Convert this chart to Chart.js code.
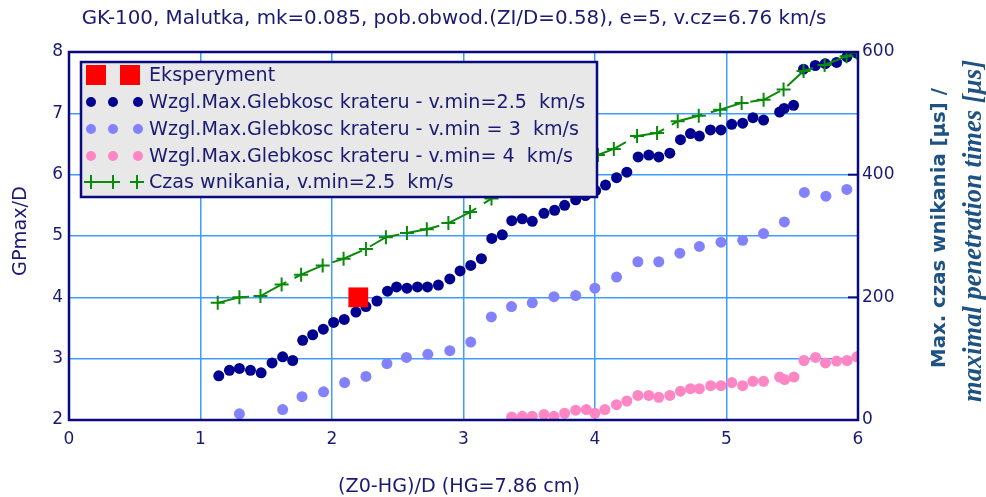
<!DOCTYPE html>
<html lang="pl">
<head>
  <meta charset="UTF-8" />
  <title>GK-100, Malutka</title>
  <script src="https://cdn.jsdelivr.net/npm/chart.js"></script>
  <style>
    html, body { margin: 0; padding: 0; background: #fff; }
    #wrap { width: 986px; height: 497px; }
  </style>
</head>
<body>
  <div id="wrap"><canvas id="chart" width="986" height="497"></canvas></div>

  <script>
    // texts
    const chartTitle = 'GK-100, Malutka, mk=0.085, pob.obwod.(ZI/D=0.58), e=5, v.cz=6.76 km/s';
    const xTitle = '(Z0-HG)/D (HG=7.86 cm)';
    const yTitle = 'GPmax/D';
    const y2Title1 = 'Max. czas wnikania [µs] /';
    const y2Title2 = 'maximal penetration times [µs]';
    const seriesNames = [
      'Eksperyment',
      'Wzgl.Max.Glebkosc krateru - v.min=2.5  km/s',
      'Wzgl.Max.Glebkosc krateru - v.min = 3  km/s',
      'Wzgl.Max.Glebkosc krateru - v.min= 4  km/s',
      'Czas wnikania, v.min=2.5  km/s'
    ];

    // experiment
    const xExp = [2.2];
    const yExp = [4.0];

    // v.min = 2.5 km/s
    const xDark = [1.139,1.220,1.296,1.380,1.461,1.544,1.625,1.701,1.777,1.853,1.934,2.012,2.093,2.182,2.258,2.342,2.422,2.491,2.570,2.650,2.726,2.809,2.896,2.974,3.055,3.136,3.215,3.295,3.367,3.447,3.523,3.612,3.693,3.769,3.853,3.927,4.005,4.080,4.164,4.242,4.328,4.409,4.485,4.569,4.650,4.726,4.794,4.878,4.958,5.040,5.123,5.201,5.282,5.404,5.438,5.510,5.586,5.675,5.751,5.837,5.915,5.991];
    const yDark = [2.72,2.81,2.84,2.81,2.77,2.93,3.03,2.97,3.30,3.39,3.48,3.59,3.64,3.76,3.85,3.94,4.10,4.17,4.15,4.17,4.17,4.20,4.30,4.43,4.52,4.63,4.96,5.02,5.25,5.28,5.24,5.37,5.42,5.50,5.59,5.66,5.74,5.83,5.95,6.04,6.29,6.32,6.29,6.35,6.57,6.67,6.63,6.73,6.73,6.82,6.84,6.93,6.89,7.02,7.08,7.13,7.72,7.78,7.81,7.83,7.92,7.98];

    // v.min = 3 km/s
    const xLight = [1.296,1.625,1.772,1.936,2.096,2.258,2.418,2.566,2.729,2.896,3.055,3.212,3.365,3.523,3.688,3.853,3.999,4.164,4.326,4.485,4.645,4.794,4.958,5.123,5.282,5.440,5.592,5.756,5.915];
    const yLight = [2.10,2.17,2.38,2.46,2.61,2.71,2.92,3.02,3.07,3.13,3.27,3.68,3.85,3.91,4.01,4.03,4.15,4.33,4.58,4.58,4.72,4.83,4.90,4.93,5.04,5.23,5.71,5.65,5.76];

    // v.min = 4 km/s
    const xPink = [3.366,3.447,3.523,3.612,3.688,3.769,3.853,3.934,3.999,4.075,4.163,4.242,4.326,4.409,4.485,4.569,4.650,4.726,4.794,4.880,4.958,5.040,5.123,5.201,5.282,5.404,5.442,5.513,5.589,5.677,5.753,5.837,5.917,5.991];
    const yPink = [2.05,2.06,2.06,2.09,2.06,2.11,2.16,2.17,2.11,2.17,2.25,2.31,2.40,2.40,2.37,2.40,2.47,2.51,2.51,2.56,2.56,2.61,2.56,2.63,2.63,2.70,2.66,2.70,2.97,3.02,2.93,2.96,2.97,3.03];

    // czas wnikania [us], right axis
    const xTime = [1.131,1.296,1.456,1.617,1.765,1.929,2.088,2.258,2.410,2.570,2.721,2.885,3.050,3.213,3.377,3.544,3.703,3.863,4.022,4.143,4.320,4.472,4.629,4.789,4.952,5.115,5.282,5.434,5.586,5.746,5.913,5.991];
    const yTime = [191,200,202,221,237,252,263,279,298,305,311,321,339,361,375,390,404,418,432,442,463,468,487,496,506,517,522,539,569,579,593,599];

    const NAVY = '#1a1a72';
    const AXIS = '#0a0a80';
    const GRID = '#3f9cff';
    const C_EXP = '#ff0000';
    const C_DARK = '#000090';
    const C_LIGHT = '#8282ff';
    const C_PINK = '#ff86c4';
    const C_TIME = '#0a8a0a';
    const FONT = '"DejaVu Sans", Verdana, sans-serif';

    function pts(xs, ys) {
      return xs.map((x, i) => ({ x: x, y: ys[i] }));
    }

    // font size so that text fills given width
    function fitFont(ctx, text, style, family, width) {
      ctx.font = style + ' 20px ' + family;
      const w = ctx.measureText(text).width;
      return style + ' ' + (20 * width / w).toFixed(2) + 'px ' + family;
    }

    const decor = {
      id: 'decor',
      afterDatasetsDraw(chart) {
        const ctx = chart.ctx;
        const a = chart.chartArea;
        ctx.save();
        // frame
        ctx.strokeStyle = AXIS;
        ctx.lineWidth = 2.5;
        ctx.strokeRect(a.left, a.top, a.right - a.left, a.bottom - a.top);
        // short inner ticks on right axis
        const y2 = chart.scales.y2;
        ctx.lineWidth = 2;
        [200, 400, 600].forEach(v => {
          const py = y2.getPixelForValue(v);
          ctx.beginPath();
          ctx.moveTo(a.right - 10, py);
          ctx.lineTo(a.right, py);
          ctx.stroke();
        });
        ctx.restore();
      },
      afterDraw(chart) {
        const ctx = chart.ctx;
        ctx.save();

        // legend box
        const lx = 81, ly = 62, lw = 516, lh = 135;
        ctx.fillStyle = '#e8e8e8';
        ctx.fillRect(lx, ly, lw, lh);
        ctx.strokeStyle = AXIS;
        ctx.lineWidth = 2.5;
        ctx.strokeRect(lx, ly, lw, lh);

        const rows = [75, 102, 129, 156, 182];
        const legendFont = fitFont(ctx, seriesNames[1], '', FONT, 436);
        ctx.font = legendFont;
        ctx.fillStyle = NAVY;
        ctx.textAlign = 'left';
        ctx.textBaseline = 'middle';
        seriesNames.forEach((s, i) => ctx.fillText(s, 149, rows[i] + 1));

        // symbols
        ctx.fillStyle = C_EXP;
        ctx.fillRect(86, rows[0] - 10, 20, 20);
        ctx.fillRect(120, rows[0] - 10, 20, 20);
        [C_DARK, C_LIGHT, C_PINK].forEach((c, i) => {
          ctx.fillStyle = c;
          [91, 113, 138].forEach(x => {
            ctx.beginPath();
            ctx.arc(x, rows[i + 1], 5, 0, Math.PI * 2);
            ctx.fill();
          });
        });
        ctx.strokeStyle = C_TIME;
        ctx.lineWidth = 2;
        const gy = rows[4];
        ctx.beginPath();
        ctx.moveTo(86, gy); ctx.lineTo(120, gy);
        [91, 113, 137].forEach(x => {
          ctx.moveTo(x - 7, gy); ctx.lineTo(x + 7, gy);
          ctx.moveTo(x, gy - 7); ctx.lineTo(x, gy + 7);
        });
        ctx.stroke();

        // title
        ctx.fillStyle = NAVY;
        ctx.textAlign = 'center';
        ctx.font = fitFont(ctx, chartTitle, '', FONT, 745);
        ctx.fillText(chartTitle, 454, 19);

        // x title
        ctx.font = fitFont(ctx, xTitle, '', FONT, 242);
        ctx.fillText(xTitle, 459, 487);

        // y title
        ctx.save();
        ctx.translate(21, 231);
        ctx.rotate(-Math.PI / 2);
        ctx.font = fitFont(ctx, yTitle, '', FONT, 90);
        ctx.fillText(yTitle, 0, 0);
        ctx.restore();

        // right titles
        ctx.fillStyle = '#1d5283';
        ctx.save();
        ctx.translate(940, 228);
        ctx.rotate(-Math.PI / 2);
        ctx.font = fitFont(ctx, y2Title1, 'bold', FONT, 280);
        ctx.fillText(y2Title1, 0, 0);
        ctx.restore();
        ctx.save();
        ctx.translate(974, 231);
        ctx.rotate(-Math.PI / 2);
        ctx.font = fitFont(ctx, y2Title2, 'italic bold', '"Liberation Serif", "DejaVu Serif", serif', 342);
        ctx.fillText(y2Title2, 0, 0);
        ctx.restore();

        ctx.restore();
      }
    };

    const tickFont = { family: FONT, size: 17 };

    new Chart(document.getElementById('chart'), {
      type: 'scatter',
      data: {
        datasets: [
          {
            label: seriesNames[0],
            data: pts(xExp, yExp),
            pointStyle: 'rect',
            pointRadius: 14,
            backgroundColor: C_EXP,
            borderColor: C_EXP,
            borderWidth: 0,
            order: 0
          },
          {
            label: seriesNames[4],
            data: pts(xTime, yTime),
            yAxisID: 'y2',
            showLine: true,
            borderColor: C_TIME,
            borderWidth: 2,
            borderDash: [32, 9],
            pointStyle: 'cross',
            pointRadius: 7,
            pointBorderWidth: 2,
            pointBorderColor: C_TIME,
            order: 1
          },
          {
            label: seriesNames[1],
            data: pts(xDark, yDark),
            pointRadius: 5.5,
            backgroundColor: C_DARK,
            borderColor: C_DARK,
            borderWidth: 0,
            order: 2
          },
          {
            label: seriesNames[2],
            data: pts(xLight, yLight),
            pointRadius: 5.5,
            backgroundColor: C_LIGHT,
            borderColor: C_LIGHT,
            borderWidth: 0,
            order: 3
          },
          {
            label: seriesNames[3],
            data: pts(xPink, yPink),
            pointRadius: 5.5,
            backgroundColor: C_PINK,
            borderColor: C_PINK,
            borderWidth: 0,
            order: 4
          }
        ]
      },
      options: {
        responsive: false,
        animation: false,
        layout: { padding: { top: 52 } },
        plugins: {
          legend: { display: false },
          title: { display: false },
          tooltip: { enabled: false }
        },
        scales: {
          x: {
            type: 'linear',
            min: 0,
            max: 6,
            ticks: { stepSize: 1, color: NAVY, font: tickFont, padding: 9 },
            grid: { color: GRID, lineWidth: 1.5, drawTicks: false },
            border: { display: false },
            afterFit: s => { s.height = 77; }
          },
          y: {
            position: 'left',
            min: 2,
            max: 8,
            ticks: { stepSize: 1, color: NAVY, font: tickFont, padding: 6 },
            grid: { color: GRID, lineWidth: 1.5, drawTicks: false },
            border: { display: false },
            afterFit: s => { s.width = 69; }
          },
          y2: {
            position: 'right',
            min: 0,
            max: 600,
            ticks: { stepSize: 200, color: NAVY, font: tickFont, padding: 4 },
            grid: { drawOnChartArea: false, drawTicks: false },
            border: { display: false },
            afterFit: s => { s.width = 128; }
          }
        }
      },
      plugins: [decor]
    });
  </script>
</body>
</html>
